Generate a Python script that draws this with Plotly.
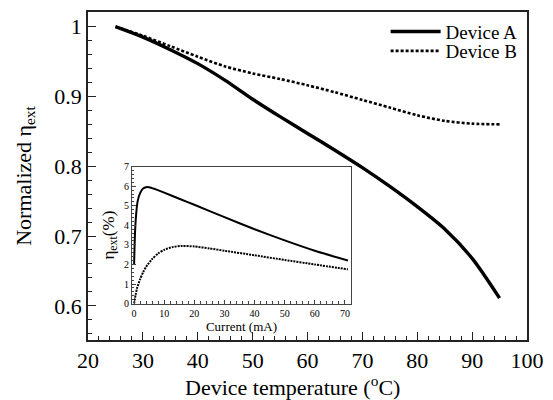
import plotly.graph_objects as go

# Main chart data
temp_a = [25, 30, 35, 40, 45, 50, 55, 60, 65, 70, 75, 80, 85, 90, 95]
eta_a = [1.0, 0.985, 0.967, 0.947, 0.923, 0.896, 0.871, 0.847, 0.823, 0.798, 0.771, 0.742, 0.710, 0.668, 0.611]
temp_b = [25, 30, 35, 40, 45, 50, 55, 60, 65, 70, 75, 80, 85, 90, 95]
eta_b = [1.0, 0.987, 0.972, 0.957, 0.943, 0.933, 0.925, 0.916, 0.906, 0.895, 0.884, 0.873, 0.865, 0.861, 0.860]

# Inset data
cur_a = [0, 0.3, 0.7, 1.2, 2, 3, 4, 5, 7, 10, 15, 20, 30, 40, 50, 60, 71]
ext_a = [2.0, 3.6, 4.6, 5.25, 5.65, 5.88, 5.95, 5.95, 5.85, 5.67, 5.36, 5.05, 4.42, 3.8, 3.23, 2.7, 2.2]
cur_b = [0, 0.5, 1, 2, 3, 4, 6, 8, 10, 13, 16, 20, 25, 30, 40, 50, 60, 71]
ext_b = [0, 0.45, 0.8, 1.25, 1.6, 1.88, 2.28, 2.56, 2.75, 2.9, 2.95, 2.92, 2.82, 2.7, 2.47, 2.23, 2.0, 1.75]

main_yticks = [0.6, 0.7, 0.8, 0.9, 1.0]
main_yticktext = ["0.6", "0.7", "0.8", "0.9", "1"]

FONT = "Liberation Serif"
AX = "#222"

fig = go.Figure()
fig.add_trace(go.Scatter(x=temp_a, y=eta_a, mode="lines", name="Device A", legend="legend",
                         line=dict(color="black", width=3.4, shape="spline", smoothing=0.8)))
fig.add_trace(go.Scatter(x=temp_b, y=eta_b, mode="lines", name="Device B", legend="legend2",
                         line=dict(color="black", width=2.6, dash="3px,2px", shape="spline", smoothing=0.8)))
fig.add_trace(go.Scatter(x=cur_a, y=ext_a, mode="lines", showlegend=False,
                         line=dict(color="black", width=2, shape="spline", smoothing=0.6),
                         xaxis="x2", yaxis="y2"))
fig.add_trace(go.Scatter(x=cur_b, y=ext_b, mode="lines", showlegend=False,
                         line=dict(color="black", width=2, dash="2px,1px", shape="spline", smoothing=0.6),
                         xaxis="x2", yaxis="y2"))

leg_common = dict(xanchor="right", yanchor="middle", font=dict(size=19, family=FONT),
                  bgcolor="rgba(0,0,0,0)", borderwidth=0, itemwidth=50)

fig.update_layout(
    width=553, height=400,
    margin=dict(l=88, r=26, t=7, b=60),
    paper_bgcolor="white", plot_bgcolor="white",
    font=dict(family=FONT, color="black"),
    showlegend=True,
    legend=dict(x=0.99, y=0.94, **leg_common),
    legend2=dict(x=0.99, y=0.881, **leg_common),
    xaxis=dict(range=[20, 100], dtick=10, tick0=0, showgrid=False, zeroline=False,
               showline=True, linecolor=AX, linewidth=1.5, mirror=True,
               ticks="inside", ticklen=8, tickwidth=1.3, tickcolor=AX,
               minor=dict(dtick=2, ticks="inside", ticklen=4, tickwidth=1, tickcolor=AX),
               tickfont=dict(size=22, family=FONT)),
    yaxis=dict(range=[0.551, 1.021], tickvals=main_yticks, ticktext=main_yticktext,
               showgrid=False, zeroline=False,
               showline=True, linecolor=AX, linewidth=1.5, mirror=True,
               ticks="inside", ticklen=8, tickwidth=1.3, tickcolor=AX,
               minor=dict(dtick=0.02, tick0=0.6, ticks="inside", ticklen=4, tickwidth=1, tickcolor=AX),
               tickfont=dict(size=22, family=FONT),
               title=dict(text="Normalized η<sub>ext</sub>", font=dict(size=22, family=FONT), standoff=17)),
    xaxis2=dict(domain=[0.1002, 0.599], anchor="y2", range=[-0.7, 72], dtick=10, tick0=0,
                showgrid=False, zeroline=False,
                showline=True, linecolor="#444", linewidth=1, mirror=True,
                ticks="inside", ticklen=4, tickwidth=1, tickcolor="#444",
                minor=dict(dtick=2, ticks="inside", ticklen=2.5, tickwidth=1, tickcolor="#444"),
                tickfont=dict(size=10, family=FONT),
                title=dict(text="Current (mA)", font=dict(size=13, family=FONT), standoff=1)),
    yaxis2=dict(domain=[0.111, 0.5285], anchor="x2", range=[0, 7], dtick=1,
                showgrid=False, zeroline=False,
                showline=True, linecolor="#444", linewidth=1, mirror=True,
                ticks="inside", ticklen=4, tickwidth=1, tickcolor="#444",
                minor=dict(dtick=0.2, ticks="inside", ticklen=2.5, tickwidth=1, tickcolor="#444"),
                tickfont=dict(size=10, family=FONT),
                title=dict(text="η<sub>ext</sub>(%)", font=dict(size=17, family=FONT), standoff=5)),
    annotations=[dict(text="Device temperature (<sup>o</sup>C)", xref="paper", yref="paper",
                      x=0.465, y=-0.141, xanchor="center", yanchor="middle", showarrow=False,
                      font=dict(size=22, family=FONT))],
)

fig.write_html("out.html")
